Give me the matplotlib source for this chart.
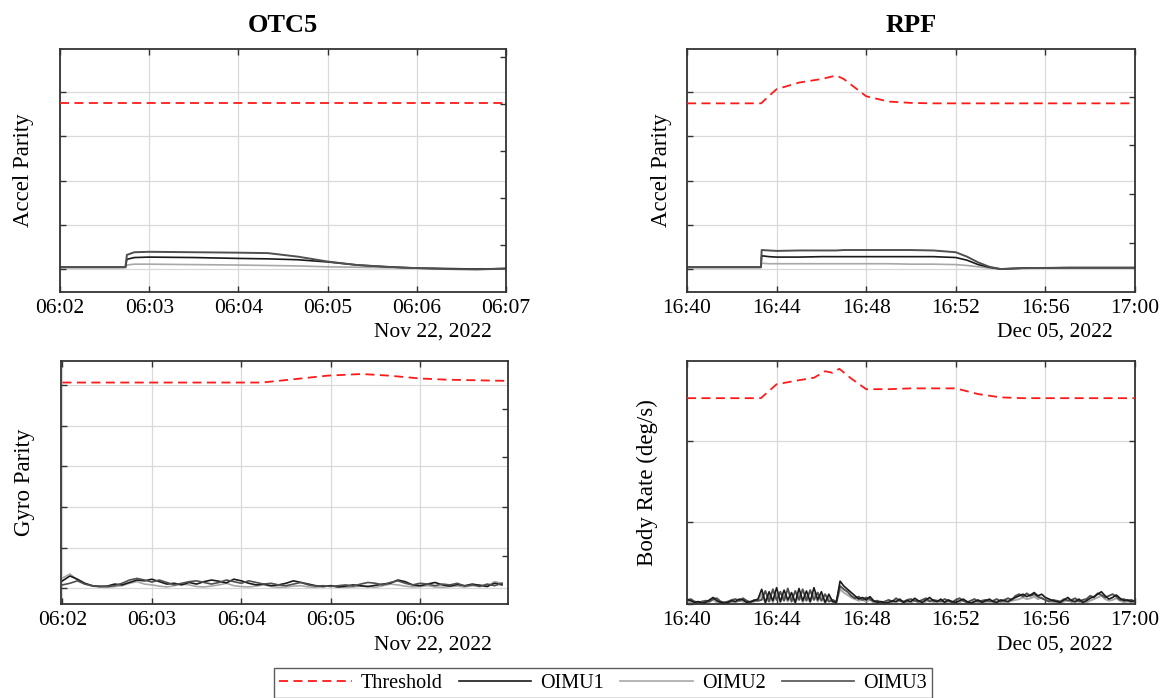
import numpy as np
import pandas as pd
import matplotlib
matplotlib.use("Agg")
import matplotlib.pyplot as plt
import matplotlib.dates as mdates
from matplotlib.lines import Line2D

plt.rcParams['font.family'] = ['Liberation Serif', 'DejaVu Serif']

# ---------------- data ----------------
titles = ["OTC5", "RPF"]
date_labels = ["Nov 22, 2022", "Dec 05, 2022"]
series_names = ["Threshold", "OIMU1", "OIMU2", "OIMU3"]

# Top-left: Accel parity, OTC5
tl_time = ["06:02:00", "06:02:44", "06:02:45", "06:02:50", "06:03:00", "06:03:30", "06:04:00",
           "06:04:20", "06:04:40", "06:05:00", "06:05:20", "06:05:40", "06:06:00", "06:06:20",
           "06:06:40", "06:07:00"]
tl_thr = [3.75] * 16
tl_o1 = [0.04, 0.04, 0.22, 0.26, 0.27, 0.26, 0.24, 0.23, 0.21, 0.16, 0.09, 0.05, 0.02, 0.01, 0.0, 0.01]
tl_o2 = [0.04, 0.04, 0.09, 0.11, 0.11, 0.10, 0.09, 0.08, 0.07, 0.05, 0.04, 0.03, 0.02, 0.01, 0.0, 0.01]
tl_o3 = [0.04, 0.04, 0.32, 0.38, 0.39, 0.38, 0.37, 0.36, 0.28, 0.17, 0.09, 0.05, 0.02, 0.0, -0.01, 0.01]

# Top-right: Accel parity, RPF
tr_time = ["16:40:00", "16:43:18", "16:43:20", "16:43:40", "16:44:00", "16:45:00", "16:46:00",
           "16:46:40", "16:47:00", "16:48:00", "16:49:00", "16:50:00", "16:51:00", "16:52:00",
           "16:52:30", "16:53:00", "16:53:30", "16:54:00", "16:55:00", "16:57:00", "17:00:00"]
tr_thr = [3.75, 3.75, 3.76, 3.92, 4.07, 4.22, 4.30, 4.38, 4.30, 3.91, 3.79, 3.76, 3.75, 3.75,
          3.75, 3.75, 3.75, 3.75, 3.75, 3.75, 3.75]
tr_o1 = [0.04, 0.04, 0.30, 0.28, 0.27, 0.27, 0.28, 0.28, 0.28, 0.28, 0.28, 0.28, 0.28, 0.26,
         0.20, 0.10, 0.04, 0.0, 0.02, 0.03, 0.03]
tr_o2 = [0.04, 0.04, 0.13, 0.12, 0.12, 0.12, 0.12, 0.12, 0.12, 0.12, 0.12, 0.11, 0.11, 0.10,
         0.08, 0.05, 0.02, 0.0, 0.02, 0.03, 0.03]
tr_o3 = [0.04, 0.04, 0.43, 0.42, 0.41, 0.42, 0.42, 0.42, 0.43, 0.43, 0.43, 0.43, 0.42, 0.38,
         0.28, 0.15, 0.05, 0.0, 0.02, 0.03, 0.03]

# Bottom-left: Gyro parity, OTC5 (samples every 5 s from 06:02:00)
bl_thr_time = ["06:02:00", "06:04:14", "06:04:35", "06:04:58", "06:05:21", "06:05:39",
               "06:06:00", "06:06:18", "06:06:59"]
bl_thr = [5.06, 5.06, 5.14, 5.23, 5.27, 5.23, 5.16, 5.13, 5.10]
bl_o1 = [0.18, 0.30, 0.22, 0.12, 0.06, 0.04, 0.05, 0.10, 0.08, 0.14, 0.20, 0.18, 0.22, 0.16, 0.10,
         0.12, 0.08, 0.14, 0.10, 0.16, 0.20, 0.17, 0.13, 0.22, 0.18, 0.12, 0.08, 0.10, 0.06, 0.08,
         0.12, 0.18, 0.14, 0.10, 0.06, 0.04, 0.06, 0.03, 0.05, 0.08, 0.06, 0.04, 0.07, 0.10, 0.12,
         0.20, 0.16, 0.08, 0.06, 0.10, 0.14, 0.08, 0.05, 0.09, 0.06, 0.10, 0.07, 0.04, 0.12, 0.08]
bl_o2 = [0.25, 0.35, 0.20, 0.10, 0.05, 0.03, 0.02, 0.04, 0.06, 0.12, 0.16, 0.10, 0.08, 0.05, 0.03,
         0.06, 0.10, 0.08, 0.04, 0.03, 0.05, 0.08, 0.12, 0.06, 0.04, 0.03, 0.05, 0.08, 0.04, 0.02,
         0.03, 0.05, 0.06, 0.03, 0.02, 0.04, 0.06, 0.03, 0.02, 0.03, 0.05, 0.04, 0.02, 0.06, 0.10,
         0.08, 0.05, 0.03, 0.04, 0.06, 0.03, 0.02, 0.04, 0.05, 0.03, 0.06, 0.08, 0.05, 0.16, 0.12]
bl_o3 = [0.08, 0.12, 0.18, 0.10, 0.06, 0.05, 0.04, 0.06, 0.12, 0.20, 0.24, 0.20, 0.15, 0.20, 0.14,
         0.08, 0.12, 0.16, 0.18, 0.14, 0.10, 0.14, 0.20, 0.16, 0.12, 0.18, 0.14, 0.10, 0.12, 0.08,
         0.06, 0.10, 0.14, 0.08, 0.05, 0.06, 0.04, 0.06, 0.08, 0.05, 0.10, 0.14, 0.12, 0.08, 0.14,
         0.18, 0.12, 0.08, 0.12, 0.10, 0.06, 0.10, 0.08, 0.12, 0.05, 0.08, 0.04, 0.10, 0.06, 0.12]

# Bottom-right: Body rate (deg/s), RPF (samples every 10 s from 16:40:00)
br_thr_time = ["16:40:00", "16:43:18", "16:44:00", "16:45:00", "16:45:40", "16:46:10", "16:46:30",
               "16:46:48", "16:47:20", "16:48:00", "16:49:00", "16:50:00", "16:51:00", "16:52:00",
               "16:53:00", "16:54:00", "16:55:00", "17:00:00"]
br_thr = [2.52, 2.52, 2.69, 2.74, 2.77, 2.85, 2.83, 2.88, 2.76, 2.63, 2.63, 2.64, 2.64, 2.64,
          2.57, 2.53, 2.52, 2.52]
br_o1 = [0.06, 0.04, 0.02, 0.03, 0.01, 0.02, 0.05, 0.08, 0.04, 0.02, 0.01, 0.02, 0.04, 0.03, 0.06,
         0.05, 0.02, 0.03, 0.04, 0.06,
         0.18, 0.02, 0.15, 0.04, 0.20, 0.03, 0.17, 0.05, 0.14, 0.02, 0.19, 0.04, 0.16, 0.03, 0.20,
         0.05, 0.15, 0.02, 0.12, 0.03,
         0.02, 0.28, 0.22, 0.18, 0.14, 0.10, 0.06, 0.08, 0.05, 0.09, 0.04, 0.02, 0.03, 0.01, 0.02,
         0.04, 0.03, 0.06, 0.02, 0.04,
         0.03, 0.07, 0.04, 0.02, 0.05, 0.08, 0.04, 0.03, 0.06, 0.02, 0.05, 0.03, 0.02, 0.04, 0.06,
         0.03, 0.01, 0.03, 0.05, 0.02,
         0.04, 0.06, 0.03, 0.02, 0.05, 0.04, 0.03, 0.06, 0.08, 0.10, 0.12, 0.09, 0.11, 0.14, 0.10,
         0.12, 0.08, 0.06, 0.04, 0.03,
         0.02, 0.05, 0.08, 0.04, 0.03, 0.06, 0.02, 0.04, 0.07, 0.09, 0.12, 0.15, 0.10, 0.06, 0.08,
         0.11, 0.07, 0.04, 0.05, 0.03, 0.04]
br_o2 = [0.03, 0.02, 0.01, 0.02, 0.01, 0.01, 0.03, 0.05, 0.02, 0.01, 0.01, 0.01, 0.02, 0.02, 0.04,
         0.03, 0.01, 0.02, 0.03, 0.04,
         0.12, 0.01, 0.10, 0.02, 0.13, 0.02, 0.11, 0.03, 0.10, 0.01, 0.12, 0.02, 0.10, 0.02, 0.13,
         0.03, 0.10, 0.01, 0.08, 0.02,
         0.01, 0.18, 0.14, 0.11, 0.08, 0.06, 0.04, 0.05, 0.03, 0.05, 0.02, 0.01, 0.02, 0.01, 0.01,
         0.02, 0.02, 0.04, 0.01, 0.02,
         0.02, 0.04, 0.02, 0.01, 0.03, 0.05, 0.02, 0.02, 0.04, 0.01, 0.03, 0.02, 0.01, 0.02, 0.04,
         0.02, 0.01, 0.02, 0.03, 0.01,
         0.02, 0.04, 0.02, 0.01, 0.03, 0.02, 0.02, 0.04, 0.05, 0.06, 0.08, 0.06, 0.07, 0.09, 0.06,
         0.08, 0.05, 0.04, 0.02, 0.02,
         0.01, 0.03, 0.05, 0.02, 0.02, 0.04, 0.01, 0.02, 0.04, 0.06, 0.08, 0.10, 0.06, 0.04, 0.05,
         0.07, 0.04, 0.02, 0.03, 0.02, 0.02]
br_o3 = [0.04, 0.06, 0.03, 0.02, 0.03, 0.04, 0.03, 0.06, 0.07, 0.03, 0.02, 0.03, 0.05, 0.06, 0.04,
         0.07, 0.04, 0.02, 0.05, 0.04,
         0.05, 0.16, 0.03, 0.18, 0.05, 0.15, 0.04, 0.19, 0.03, 0.16, 0.05, 0.18, 0.04, 0.17, 0.05,
         0.14, 0.04, 0.12, 0.03, 0.05,
         0.03, 0.22, 0.18, 0.15, 0.10, 0.07, 0.09, 0.05, 0.08, 0.06, 0.03, 0.04, 0.02, 0.03, 0.05,
         0.03, 0.07, 0.04, 0.03, 0.05,
         0.06, 0.04, 0.03, 0.05, 0.07, 0.03, 0.05, 0.04, 0.03, 0.06, 0.04, 0.02, 0.05, 0.07, 0.04,
         0.02, 0.04, 0.06, 0.03, 0.04,
         0.05, 0.03, 0.04, 0.06, 0.03, 0.05, 0.07, 0.05, 0.10, 0.12, 0.09, 0.13, 0.10, 0.12, 0.09,
         0.07, 0.05, 0.03, 0.05, 0.04,
         0.03, 0.06, 0.04, 0.05, 0.07, 0.03, 0.05, 0.06, 0.10, 0.08, 0.13, 0.11, 0.08, 0.10, 0.12,
         0.09, 0.05, 0.06, 0.04, 0.05, 0.03]

# ---------------- helpers ----------------
def tt(day, strs):
    return pd.to_datetime([f"{day} {s}" for s in strs])

def regular(day, start, step_s, n):
    return pd.Timestamp(f"{day} {start}") + pd.to_timedelta(np.arange(n) * step_s, unit="s")

D1 = "2022-11-22"
D2 = "2022-12-05"

col_thr = "#ff1a1a"
col_o1 = "#1a1a1a"
col_o2 = "#a8a8a8"
col_o3 = "#505050"
dash = (0, (5, 3))
FS = 15.5

fig = plt.figure(figsize=(11.65, 6.98), dpi=100)
W, H = 1165, 698

def mkax(x0, x1, ytop, ybot):
    return fig.add_axes([x0 / W, 1 - ybot / H, (x1 - x0) / W, (ybot - ytop) / H])

ax_tl = mkax(60, 506, 49, 292)
ax_tr = mkax(687, 1135, 49, 292)
ax_bl = mkax(61, 508, 361, 604)
ax_br = mkax(687, 1135, 361, 604)

def style(ax, ylim, ygrid, rticks, xlim, xticks, ylabel, ylab_x, datelabel, date_x_off, date_y):
    ax.set_xlim(xlim)
    ax.set_ylim(ylim)
    ax.set_xticks(xticks)
    ax.xaxis.set_major_formatter(mdates.DateFormatter("%H:%M"))
    ax.set_yticks(ygrid)
    ax.set_yticklabels([])
    ax.grid(True, color="#d9d9d9", linewidth=0.9)
    ax.set_axisbelow(True)
    ax.tick_params(axis="x", direction="in", top=True, length=4, width=1.0,
                   labelsize=FS, pad=5, color="#333333")
    ax.tick_params(axis="y", direction="in", left=True, right=False, length=4, width=1.0,
                   color="#333333")
    for s in ax.spines.values():
        s.set_color("#333333")
        s.set_linewidth(1.3)
    ax.set_ylabel(ylabel, fontsize=16.5)
    ax.yaxis.set_label_coords(ylab_x, 0.5)
    bbox = ax.get_position()
    ax.text(1.0 - date_x_off / (bbox.width * W), date_y, datelabel, transform=ax.transAxes,
            ha="right", va="center", fontsize=FS)
    tw = ax.twinx()
    tw.set_ylim(ylim)
    tw.set_yticks(rticks)
    tw.set_yticklabels([])
    tw.tick_params(axis="y", direction="in", length=4, width=1.0, color="#333333")
    for s in tw.spines.values():
        s.set_visible(False)

# Top-left
t = tt(D1, tl_time)
ax_tl.plot(t, tl_thr, color=col_thr, ls=dash, lw=1.3, zorder=5)
ax_tl.plot(t, tl_o2, color=col_o2, lw=1.2)
ax_tl.plot(t, tl_o1, color=col_o1, lw=1.2)
ax_tl.plot(t, tl_o3, color=col_o3, lw=1.4)
style(ax_tl, (-0.52, 4.98), [0, 1, 2, 3, 4], [0.55, 1.61, 2.68, 3.73, 4.80],
      (pd.Timestamp(f"{D1} 06:02"), pd.Timestamp(f"{D1} 06:07")),
      pd.date_range(f"{D1} 06:02", f"{D1} 06:07", freq="1min"),
      "Accel Parity", -0.058, date_labels[0], 14, -0.165)
ax_tl.set_title(titles[0], fontsize=19, fontweight="bold", pad=12)

# Top-right
t = tt(D2, tr_time)
ax_tr.plot(t, tr_thr, color=col_thr, ls=dash, lw=1.3, zorder=5)
ax_tr.plot(t, tr_o2, color=col_o2, lw=1.2)
ax_tr.plot(t, tr_o1, color=col_o1, lw=1.2)
ax_tr.plot(t, tr_o3, color=col_o3, lw=1.4)
style(ax_tr, (-0.52, 4.98), [0, 1, 2, 3, 4], [0.59, 1.70, 2.80, 3.89],
      (pd.Timestamp(f"{D2} 16:40"), pd.Timestamp(f"{D2} 17:00")),
      pd.date_range(f"{D2} 16:40", f"{D2} 17:00", freq="4min"),
      "Accel Parity", -0.034, date_labels[1], 22, -0.165)
ax_tr.set_title(titles[1], fontsize=19, fontweight="bold", pad=12)

# Bottom-left
ax_bl.plot(tt(D1, bl_thr_time), bl_thr, color=col_thr, ls=dash, lw=1.3, zorder=5)
ax_bl.plot(regular(D1, "06:02:00", 5, len(bl_o2)), bl_o2, color=col_o2, lw=1.2)
ax_bl.plot(regular(D1, "06:02:00", 5, len(bl_o1)), bl_o1, color=col_o1, lw=1.2)
ax_bl.plot(regular(D1, "06:02:00", 5, len(bl_o3)), bl_o3, color=col_o3, lw=1.2)
style(ax_bl, (-0.39, 5.59), [0, 1, 2, 3, 4, 5], [0.8, 2.0, 3.23, 4.42],
      (pd.Timestamp(f"{D1} 06:01:59"), pd.Timestamp(f"{D1} 06:06:59")),
      pd.date_range(f"{D1} 06:02", f"{D1} 06:06", freq="1min"),
      "Gyro Parity", -0.058, date_labels[0], 16, -0.17)

# Bottom-right
ax_br.plot(tt(D2, br_thr_time), br_thr, color=col_thr, ls=dash, lw=1.3, zorder=5)
ax_br.plot(regular(D2, "16:40:00", 10, len(br_o2)), br_o2, color=col_o2, lw=1.4)
ax_br.plot(regular(D2, "16:40:00", 10, len(br_o3)), br_o3, color=col_o3, lw=1.4)
ax_br.plot(regular(D2, "16:40:00", 10, len(br_o1)), br_o1, color=col_o1, lw=1.2)
style(ax_br, (0, 2.975), [0, 1, 2], [1, 2],
      (pd.Timestamp(f"{D2} 16:40"), pd.Timestamp(f"{D2} 17:00")),
      pd.date_range(f"{D2} 16:40", f"{D2} 17:00", freq="4min"),
      "Body Rate (deg/s)", -0.065, date_labels[1], 22, -0.17)

# Legend
handles = [Line2D([], [], color=col_thr, ls=dash, lw=1.3),
           Line2D([], [], color=col_o1, lw=1.2),
           Line2D([], [], color=col_o2, lw=1.2),
           Line2D([], [], color=col_o3, lw=1.2)]
leg = fig.legend(handles, series_names, loc="center", bbox_to_anchor=(603 / W, 1 - 683 / H),
                 ncol=4, fontsize=14.5, frameon=True, fancybox=False, handlelength=3.6,
                 columnspacing=0.8, handletextpad=0.45, borderpad=0.25, edgecolor="#333333")
leg.get_frame().set_linewidth(1.0)

fig.savefig("out.png", dpi=100)
